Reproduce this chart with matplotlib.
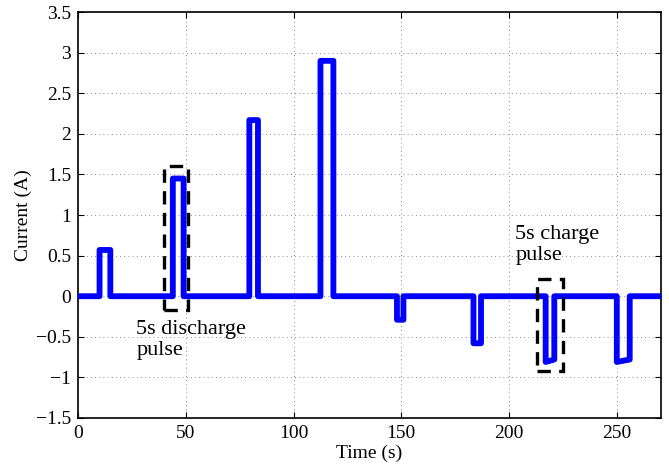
import numpy as np
import matplotlib
matplotlib.use('Agg')
import matplotlib.pyplot as plt
from matplotlib.patches import Rectangle

# pulse starts / ends (s) and current levels (A)
pulse_start = [10, 44, 79.5, 112.5, 148, 183.5, 217, 250]
pulse_end = [15, 49, 83.5, 118.5, 151, 187, 221, 256]
pulse_level_in = [0.57, 1.45, 2.17, 2.9, -0.29, -0.58, -0.81, -0.81]
pulse_level_out = [0.57, 1.45, 2.17, 2.9, -0.29, -0.58, -0.78, -0.78]
t_end = 272

# dashed boxes: (x0, x1, y0, y1)
boxes = [(40, 51, -0.17, 1.6), (213, 225, -0.92, 0.21)]

plt.rcParams['font.family'] = ['Liberation Serif', 'DejaVu Serif']

# build the step signal
t = [0]
i_val = [0]
for s, e, a, b in zip(pulse_start, pulse_end, pulse_level_in, pulse_level_out):
    t += [s, s, e, e]
    i_val += [0, a, b, 0]
t.append(t_end)
i_val.append(0)

fig = plt.figure(figsize=(6.69, 4.67), dpi=100)
ax = fig.add_axes([0.1166, 0.105, 0.8714, 0.869])

ax.plot(t, i_val, color='#0000ff', lw=4.2, solid_joinstyle='round', solid_capstyle='round', zorder=3)

for x0, x1, y0, y1 in boxes:
    ax.add_patch(Rectangle((x0, y0), x1 - x0, y1 - y0, fill=False, ec='black',
                           lw=2.4, ls=(0, (4, 2.5)), zorder=4))

ax.text(27, -0.54, '5s discharge\npulse', fontsize=16, va='center', ha='left', linespacing=1.2)
ax.text(203, 0.63, '5s charge\npulse', fontsize=16, va='center', ha='left', linespacing=1.2)

ax.set_xlim(0, 270.5)
ax.set_ylim(-1.5, 3.5)
ax.set_xticks(np.arange(0, 251, 50))
ax.set_yticks(np.arange(-1.5, 3.51, 0.5))
ax.set_yticklabels(['\u22121.5', '\u22121', '\u22120.5', '0', '0.5', '1', '1.5', '2', '2.5', '3', '3.5'])
ax.tick_params(direction='in', labelsize=14, length=4, top=True, right=True, pad=5)
ax.grid(True, ls=(0, (1, 4)), color='black', lw=0.6, alpha=0.6)
for sp in ax.spines.values():
    sp.set_linewidth(1.2)

ax.set_xlabel('Time (s)', fontsize=14, labelpad=2)
ax.set_ylabel('Current (A)', fontsize=14, labelpad=3)

fig.savefig('out.png', dpi=100)
